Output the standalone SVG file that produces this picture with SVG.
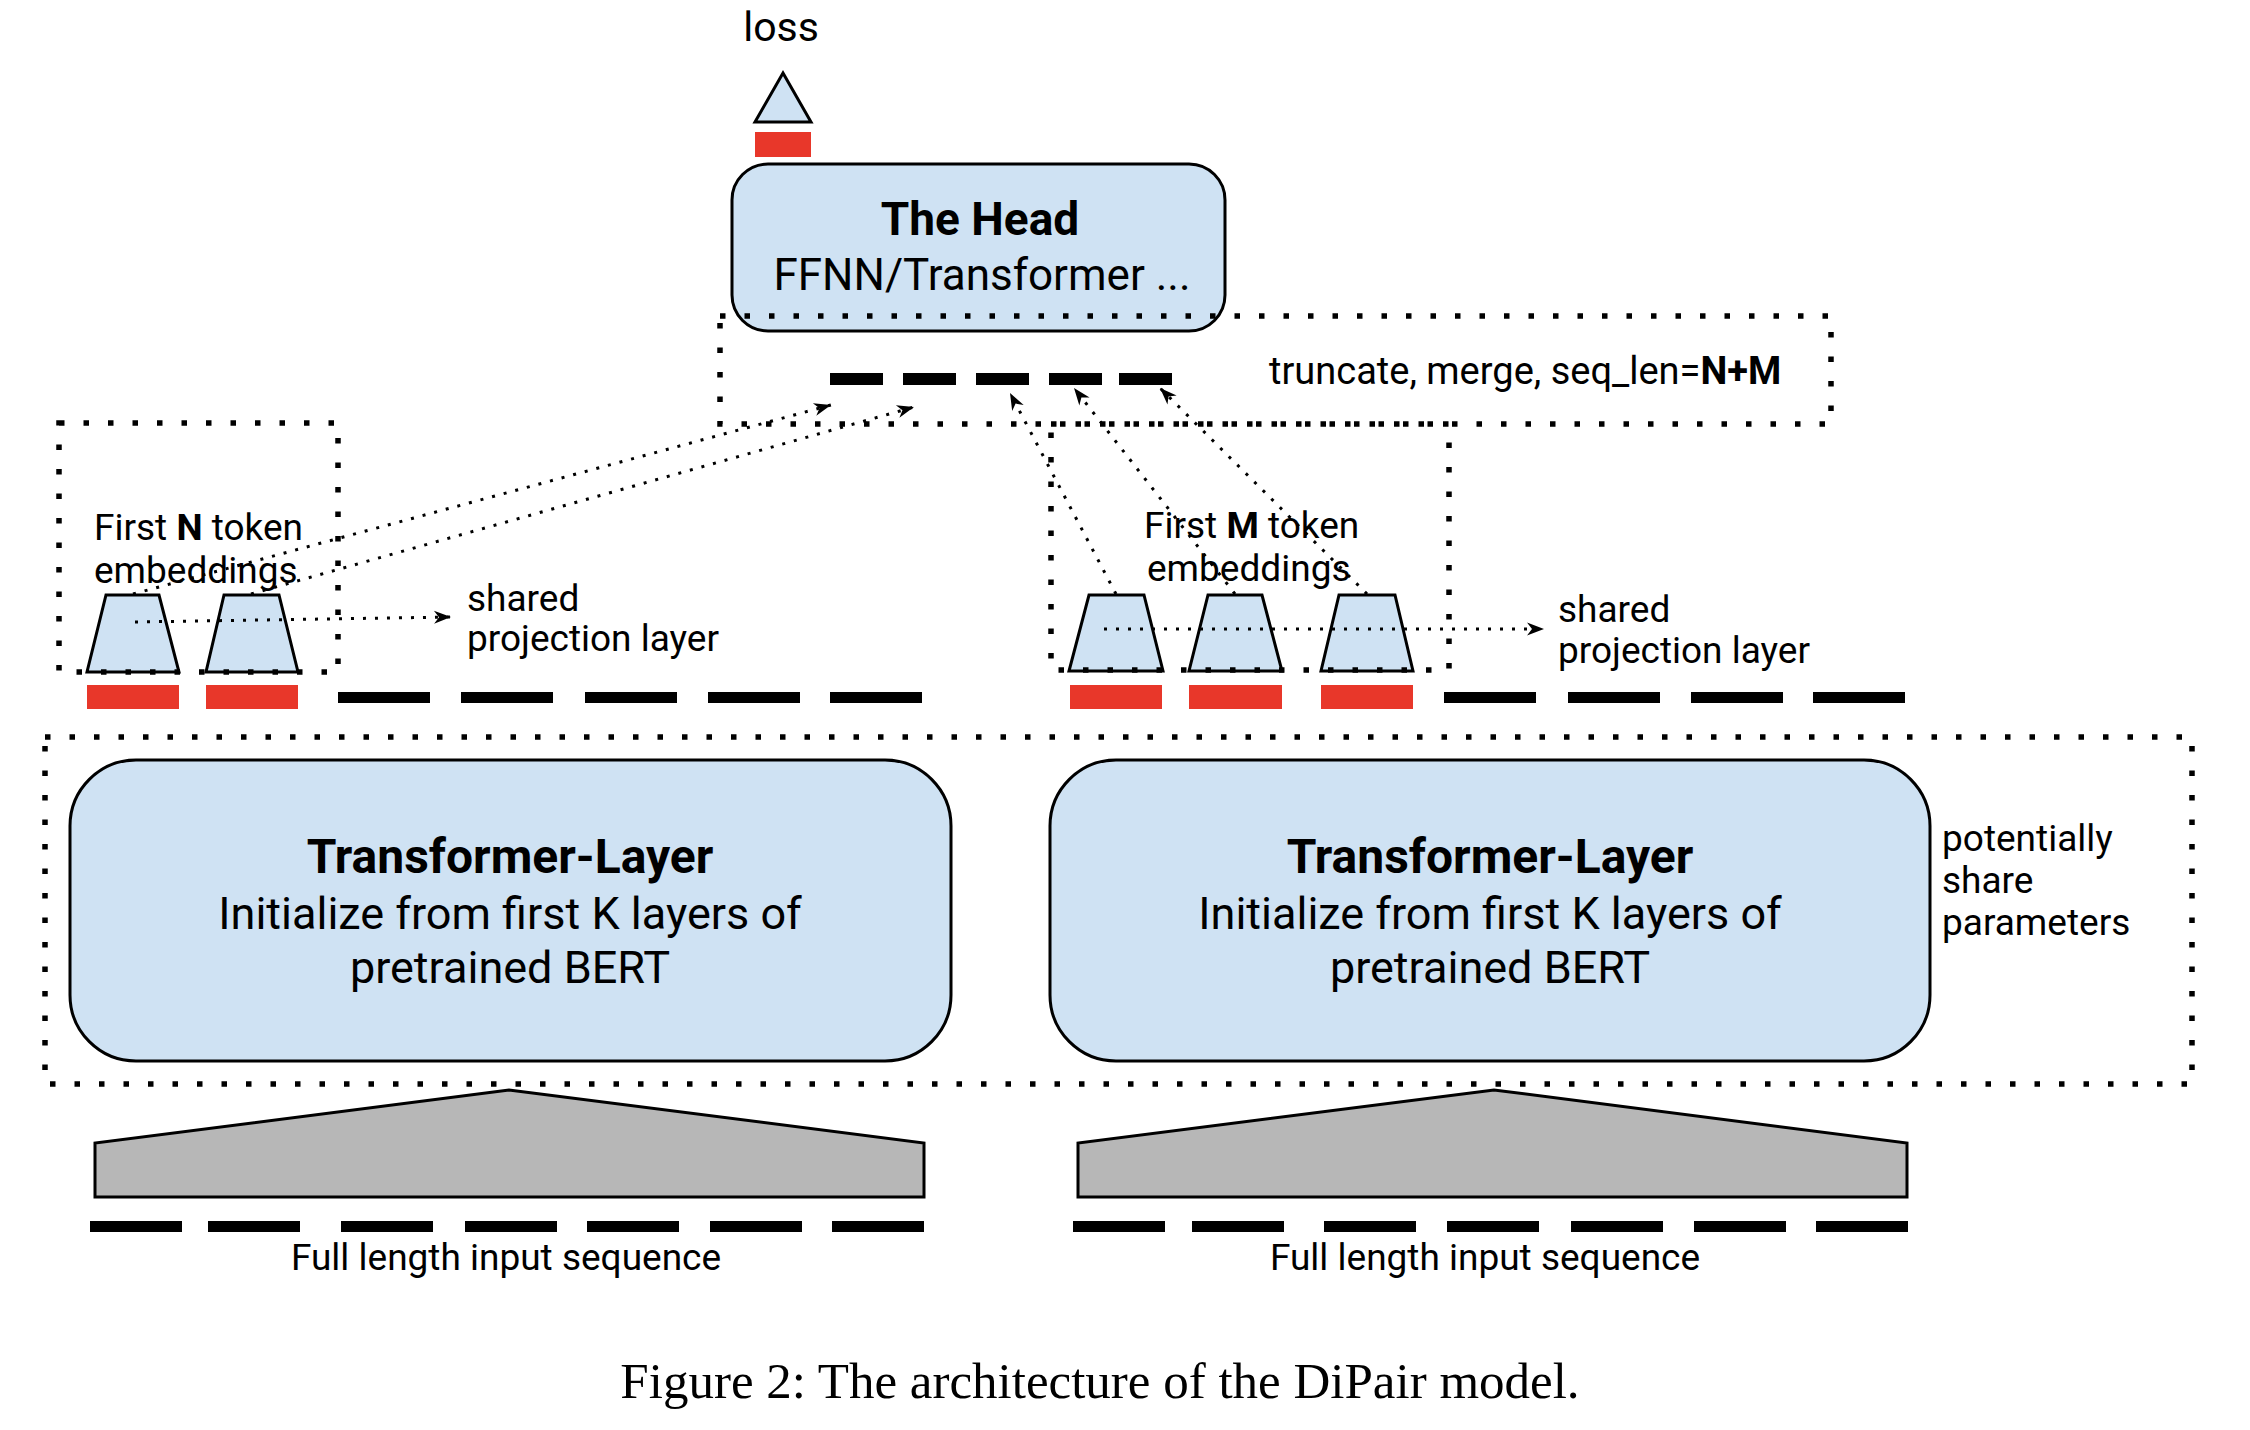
<svg xmlns="http://www.w3.org/2000/svg" width="2250" height="1430" viewBox="0 0 2250 1430">
<defs>
<style>
.t{font-family:Roboto,"Liberation Sans",sans-serif;fill:#000}
.b{font-weight:bold}
.box{fill:#cfe2f3;stroke:#000;stroke-width:3}
.dotbox{fill:none;stroke:#000;stroke-width:5.5;stroke-dasharray:5.5 19}
.red{fill:#e8372a}
.blk{fill:#000}
.gray{fill:#b7b7b7;stroke:#000;stroke-width:3}
.con{fill:none;stroke:#000;stroke-width:3;stroke-dasharray:3 9}
</style>
<marker id="ah" viewBox="-18 -8 20 16" refX="0" refY="0" markerWidth="20" markerHeight="16" markerUnits="userSpaceOnUse" orient="auto">
<path d="M0,0 L-17,-6.5 L-12,0 L-17,6.5 Z" fill="#000"/>
</marker>
</defs>
<rect width="2250" height="1430" fill="#fff"/>

<g id="loss">
<text class="t" x="781" y="41" font-size="41" text-anchor="middle">loss</text>
<polygon class="box" points="783,73 811,122 755,122"/>
<rect class="red" x="755" y="132" width="56" height="25"/>
</g>

<g id="head">
<rect class="box" x="732" y="164" width="493" height="167" rx="36" ry="36"/>
<text class="t b" x="980" y="235" font-size="46" text-anchor="middle">The Head</text>
<text class="t" x="982" y="290" font-size="44" text-anchor="middle">FFNN/Transformer ...</text>
</g>

<g id="truncate">
<rect class="dotbox" x="720" y="316" width="1111" height="108"/>
<rect class="blk" x="830" y="373" width="53" height="12"/>
<rect class="blk" x="903" y="373" width="53" height="12"/>
<rect class="blk" x="976" y="373" width="53" height="12"/>
<rect class="blk" x="1049" y="373" width="53" height="12"/>
<rect class="blk" x="1119" y="373" width="53" height="12"/>
<text class="t" x="1269" y="384" font-size="38">truncate, merge, seq_len=<tspan class="b">N+M</tspan></text>
</g>

<g id="left-embeddings">
<polygon class="box" points="106,595 159,595 179,672 87,672"/>
<polygon class="box" points="224,595 279,595 298,672 206,672"/>
<rect class="dotbox" x="59" y="423" width="279" height="249"/>
<text class="t" x="94" y="540" font-size="37">First <tspan class="b">N</tspan> token</text>
<text class="t" x="94" y="583" font-size="37">embeddings</text>
<text class="t" x="467" y="611" font-size="37">shared</text>
<text class="t" x="467" y="651" font-size="37">projection layer</text>
</g>

<g id="right-embeddings">
<polygon class="box" points="1089,595 1144,595 1163,671 1069,671"/>
<polygon class="box" points="1208,595 1262,595 1282,671 1189,671"/>
<polygon class="box" points="1339,595 1395,595 1413,671 1321,671"/>
<rect class="dotbox" x="1051" y="424" width="398" height="246"/>
<text class="t" x="1144" y="538" font-size="37">First <tspan class="b">M</tspan> token</text>
<text class="t" x="1147" y="581" font-size="37">embeddings</text>
<text class="t" x="1558" y="622" font-size="37">shared</text>
<text class="t" x="1558" y="663" font-size="37">projection layer</text>
</g>

<g id="left-tokens">
<rect class="red" x="87" y="685" width="92" height="24"/>
<rect class="red" x="206" y="685" width="92" height="24"/>
<rect class="blk" x="338" y="692" width="92" height="11"/>
<rect class="blk" x="461" y="692" width="92" height="11"/>
<rect class="blk" x="585" y="692" width="92" height="11"/>
<rect class="blk" x="708" y="692" width="92" height="11"/>
<rect class="blk" x="830" y="692" width="92" height="11"/>
</g>

<g id="right-tokens">
<rect class="red" x="1070" y="685" width="92" height="24"/>
<rect class="red" x="1189" y="685" width="93" height="24"/>
<rect class="red" x="1321" y="685" width="92" height="24"/>
<rect class="blk" x="1444" y="692" width="92" height="11"/>
<rect class="blk" x="1568" y="692" width="92" height="11"/>
<rect class="blk" x="1691" y="692" width="92" height="11"/>
<rect class="blk" x="1813" y="692" width="92" height="11"/>
</g>

<g id="shared-params">
<rect class="dotbox" x="45" y="737" width="2147" height="347"/>
<text class="t" x="1942" y="851" font-size="37">potentially</text>
<text class="t" x="1942" y="893" font-size="37">share</text>
<text class="t" x="1942" y="935" font-size="37">parameters</text>
</g>

<g id="transformer-left">
<rect class="box" x="70" y="760" width="881" height="301" rx="66" ry="66"/>
<text class="t b" x="510" y="873" font-size="48" text-anchor="middle">Transformer-Layer</text>
<text class="t" x="510" y="929" font-size="45" text-anchor="middle">Initialize from first K layers of</text>
<text class="t" x="510" y="983" font-size="45" text-anchor="middle">pretrained BERT</text>
</g>

<g id="transformer-right">
<rect class="box" x="1050" y="760" width="880" height="301" rx="66" ry="66"/>
<text class="t b" x="1490" y="873" font-size="48" text-anchor="middle">Transformer-Layer</text>
<text class="t" x="1490" y="929" font-size="45" text-anchor="middle">Initialize from first K layers of</text>
<text class="t" x="1490" y="983" font-size="45" text-anchor="middle">pretrained BERT</text>
</g>

<g id="input-left">
<polygon class="gray" points="95,1197 95,1143 509,1090 924,1143 924,1197"/>
<rect class="blk" x="90" y="1221" width="92" height="11"/>
<rect class="blk" x="208" y="1221" width="92" height="11"/>
<rect class="blk" x="341" y="1221" width="92" height="11"/>
<rect class="blk" x="465" y="1221" width="92" height="11"/>
<rect class="blk" x="587" y="1221" width="92" height="11"/>
<rect class="blk" x="710" y="1221" width="92" height="11"/>
<rect class="blk" x="832" y="1221" width="92" height="11"/>
<text class="t" x="506" y="1270" font-size="37" text-anchor="middle">Full length input sequence</text>
</g>

<g id="input-right">
<polygon class="gray" points="1078,1197 1078,1143 1494,1090 1907,1143 1907,1197"/>
<rect class="blk" x="1073" y="1221" width="92" height="11"/>
<rect class="blk" x="1192" y="1221" width="92" height="11"/>
<rect class="blk" x="1324" y="1221" width="92" height="11"/>
<rect class="blk" x="1447" y="1221" width="92" height="11"/>
<rect class="blk" x="1571" y="1221" width="92" height="11"/>
<rect class="blk" x="1694" y="1221" width="92" height="11"/>
<rect class="blk" x="1816" y="1221" width="92" height="11"/>
<text class="t" x="1485" y="1270" font-size="37" text-anchor="middle">Full length input sequence</text>
</g>

<g id="connectors">
<line class="con" x1="135" y1="622" x2="451" y2="617" marker-end="url(#ah)"/>
<line class="con" x1="1104" y1="629" x2="1544" y2="629" marker-end="url(#ah)"/>
<line class="con" x1="133" y1="594" x2="831" y2="405" marker-end="url(#ah)"/>
<line class="con" x1="251" y1="594" x2="914" y2="407" marker-end="url(#ah)"/>
<line class="con" x1="1116" y1="594" x2="1010" y2="393" marker-end="url(#ah)"/>
<line class="con" x1="1235" y1="594" x2="1074" y2="388" marker-end="url(#ah)"/>
<line class="con" x1="1367" y1="594" x2="1160" y2="388" marker-end="url(#ah)"/>
</g>

<text id="caption" x="1100" y="1398" font-family="'Liberation Serif',serif" font-size="51" text-anchor="middle">Figure 2: The architecture of the DiPair model.</text>
</svg>
